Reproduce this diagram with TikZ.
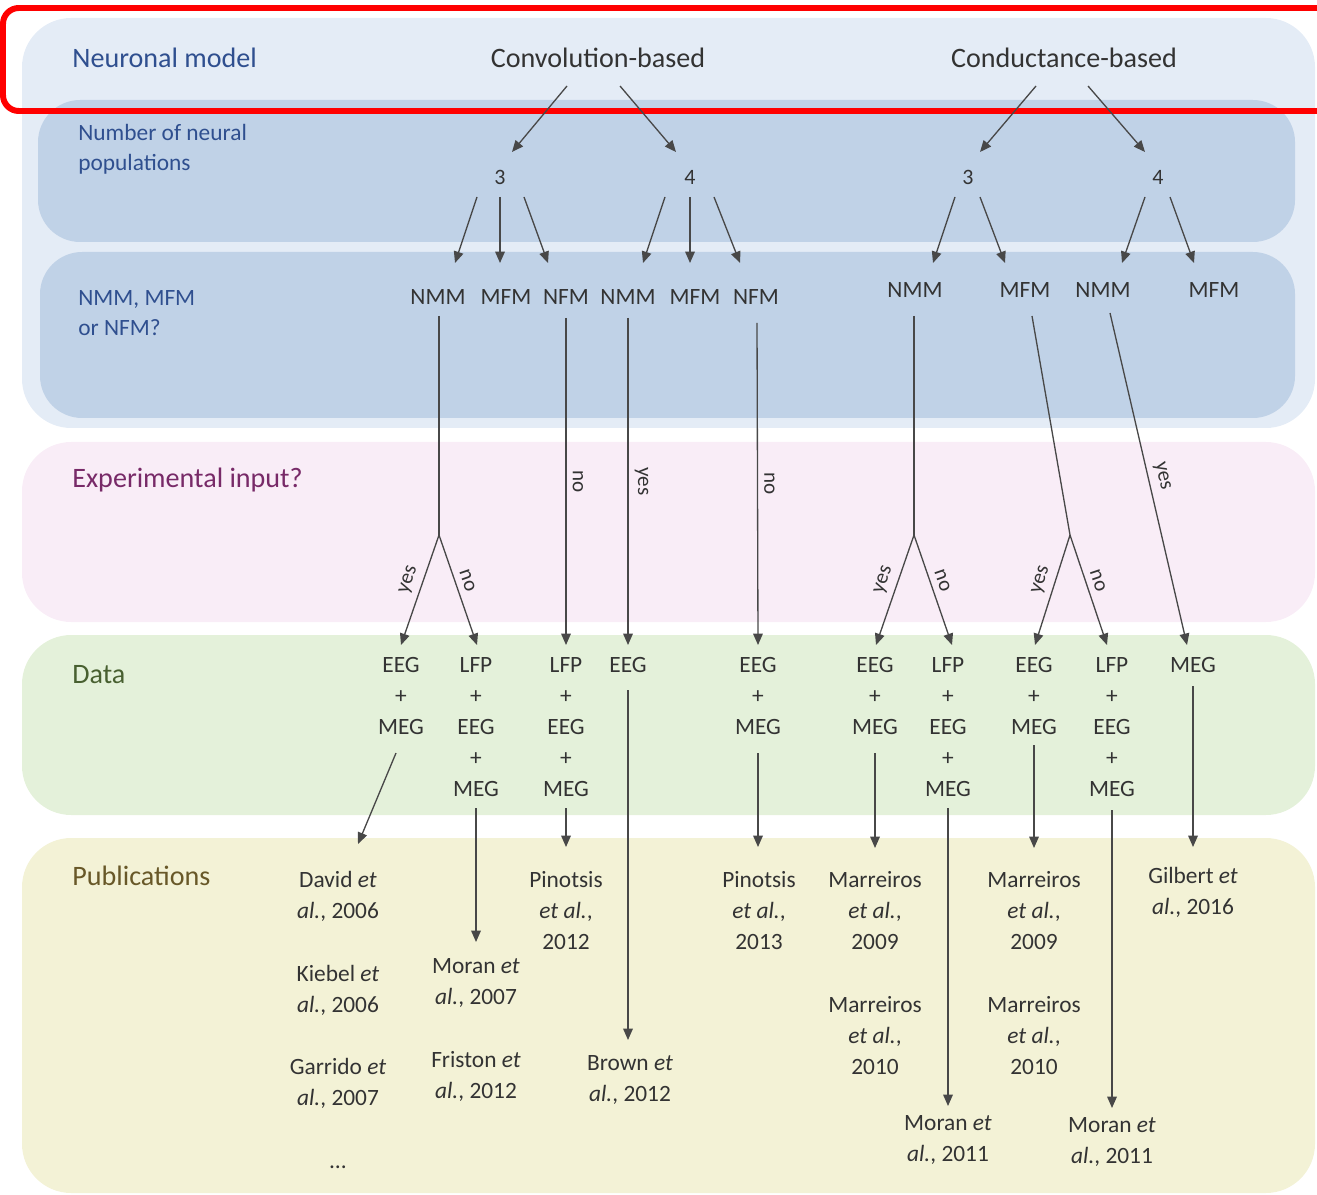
\documentclass[tikz,border=0pt]{standalone}
\usepackage{fontspec}
\setmainfont{Carlito}
\usetikzlibrary{arrows.meta,calc}
\definecolor{bandouter}{RGB}{228,236,246}
\definecolor{bandinner}{RGB}{192,210,231}
\definecolor{bandpink}{RGB}{249,237,247}
\definecolor{bandgreen}{RGB}{228,241,218}
\definecolor{bandyellow}{RGB}{243,242,214}
\definecolor{inkblue}{RGB}{47,79,143}
\definecolor{inkpurple}{RGB}{120,42,104}
\definecolor{inkgreen}{RGB}{72,96,48}
\definecolor{inkolive}{RGB}{104,88,40}
\definecolor{ink}{RGB}{51,51,51}
\definecolor{wirecol}{RGB}{72,72,72}
% multi-line nodes sit on the baseline of their last line
\tikzstyle{heading}=[anchor=base west, inner sep=0pt, font=\fontsize{16}{20}\selectfont]
\tikzstyle{sublabel}=[anchor=base west, inner sep=0pt, align=left, text=inkblue,
font=\fontsize{13.3}{17.6}\selectfont]
\tikzstyle{model}=[anchor=base, inner sep=0pt, text=ink, font=\fontsize{16}{20}\selectfont]
\tikzstyle{count}=[anchor=base, inner sep=0pt, text=ink, font=\fontsize{12.5}{14}\selectfont]
\tikzstyle{kind}=[anchor=base, inner sep=0pt, text=ink, font=\fontsize{13.3}{16}\selectfont]
\tikzstyle{data}=[anchor=base, inner sep=0pt, align=center, text=ink,
font=\fontsize{13.3}{17.6}\selectfont]
\tikzstyle{paper}=[data]
\tikzstyle{branch}=[wirecol, line width=0.75pt]
\tikzstyle{arr}=[branch, -{Triangle[length=6.5pt,width=5.5pt]}]
\tikzstyle{answer}=[inner sep=3.5pt, text=ink, font=\fontsize{12}{14}\selectfont]

\begin{document}
\begin{tikzpicture}[x=0.02cm,y=-0.02cm]
\useasboundingbox (0,0) rectangle (1317,1195);
% bands
\fill[bandouter, rounded corners=28pt] (22,18) rectangle (1315,428);
\fill[bandinner, rounded corners=24pt] (38,100) rectangle (1295,242);
\fill[bandinner, rounded corners=24pt] (40,252) rectangle (1295,418);
\fill[bandpink, rounded corners=28pt] (22,442) rectangle (1315,622);
\fill[bandgreen, rounded corners=28pt] (22,635) rectangle (1315,815);
\fill[bandyellow, rounded corners=28pt] (22,838) rectangle (1315,1193);
\draw[red, line width=3.4pt, rounded corners=9pt] (3,8) rectangle (1345,111);

% row labels
\node[heading, text=inkblue](rowmodel)at (72,68){Neuronal model};
\node[sublabel](rowpop)at (78,171){Number of neural\\populations};
\node[sublabel](rowkind)at (78,336){NMM, MFM\\or NFM?};
\node[heading, text=inkpurple](rowinput)at (72,487){Experimental input?};
\node[heading, text=inkgreen](rowdata)at (72,683){Data};
\node[heading, text=inkolive](rowpub)at (72,885){Publications};

% models
\node[model](conv)at (598,68){Convolution-based};
\node[model](cond)at (1064,68){Conductance-based};

\node[count](popA3)at (500,185){3};
\node[count](popA4)at (690,185){4};
\node[count](popB3)at (968,185){3};
\node[count](popB4)at (1158,185){4};

\node[kind](nmmA)at (438,305){NMM};
\node[kind](mfmA)at (506,305){MFM};
\node[kind](nfmA)at (566,305){NFM};
\node[kind](nmmB)at (628,305){NMM};
\node[kind](mfmB)at (695,305){MFM};
\node[kind](nfmB)at (756,305){NFM};
\node[kind](nmmC)at (915,298){NMM};
\node[kind](mfmC)at (1025,298){MFM};
\node[kind](nmmD)at (1103,298){NMM};
\node[kind](mfmD)at (1214,298){MFM};

\coordinate (forkA) at (439,535);
\coordinate (forkB) at (914,535);
\coordinate (forkC) at (1070,535);

% data
\node[data](eegmegA)at (401,734){EEG\\+\\MEG};
\node[data](lfpA)at (476,796){LFP\\+\\EEG\\+\\MEG};
\node[data](lfpB)at (566,796){LFP\\+\\EEG\\+\\MEG};
\node[data](eegA)at (628,672){EEG};
\node[data](eegmegB)at (758,734){EEG\\+\\MEG};
\node[data](eegmegC)at (875,734){EEG\\+\\MEG};
\node[data](lfpC)at (948,796){LFP\\+\\EEG\\+\\MEG};
\node[data](eegmegD)at (1034,734){EEG\\+\\MEG};
\node[data](lfpD)at (1112,796){LFP\\+\\EEG\\+\\MEG};
\node[data](megA)at (1193,672){MEG};

% publications
\node[paper](david)at (338,918){David \emph{et}\\\emph{al.}, 2006};
\node[paper](kiebel)at (338,1012){Kiebel \emph{et}\\\emph{al.}, 2006};
\node[paper](garrido)at (338,1105){Garrido \emph{et}\\\emph{al.}, 2007};
\node[paper](etc)at (338,1168){\ldots};
\node[paper](moranA)at (476,1004){Moran \emph{et}\\\emph{al.}, 2007};
\node[paper](friston)at (476,1098){Friston \emph{et}\\\emph{al.}, 2012};
\node[paper](pinotsisA)at (566,949){Pinotsis\\\emph{et al.},\\2012};
\node[paper](brown)at (630,1101){Brown \emph{et}\\\emph{al.}, 2012};
\node[paper](pinotsisB)at (759,949){Pinotsis\\\emph{et al.},\\2013};
\node[paper](marreirosA)at (875,949){Marreiros\\\emph{et al.},\\2009};
\node[paper](marreirosB)at (875,1074){Marreiros\\\emph{et al.},\\2010};
\node[paper](moranB)at (948,1161){Moran \emph{et}\\\emph{al.}, 2011};
\node[paper](marreirosC)at (1034,949){Marreiros\\\emph{et al.},\\2009};
\node[paper](marreirosD)at (1034,1074){Marreiros\\\emph{et al.},\\2010};
\node[paper](moranC)at (1112,1163){Moran \emph{et}\\\emph{al.}, 2011};
\node[paper](gilbert)at (1193,914){Gilbert \emph{et}\\\emph{al.}, 2016};

% model -> populations
\draw[arr] ($(conv.base)+(-31,18)$) -- ($(popA3.base)+(12,-33)$);
\draw[arr] ($(conv.base)+(22,18)$) -- ($(popA4.base)+(-14,-33)$);
\draw[arr] ($(cond.base)+(-28,18)$) -- ($(popB3.base)+(12,-33)$);
\draw[arr] ($(cond.base)+(24,18)$) -- ($(popB4.base)+(-13,-33)$);

% populations -> kind
\draw[arr] ($(popA3.base)+(-23,12)$) -- ($(nmmA.base)+(17,-42)$);
\draw[arr] ($(popA3.base)+(0,12)$) -- ($(mfmA.base)+(-6,-42)$);
\draw[arr] ($(popA3.base)+(24,12)$) -- ($(nfmA.base)+(-18,-42)$);
\draw[arr] ($(popA4.base)+(-25,12)$) -- ($(nmmB.base)+(15,-42)$);
\draw[arr] ($(popA4.base)+(0,12)$) -- ($(mfmB.base)+(-5,-42)$);
\draw[arr] ($(popA4.base)+(24,12)$) -- ($(nfmB.base)+(-16,-42)$);
\draw[arr] ($(popB3.base)+(-13,12)$) -- ($(nmmC.base)+(18,-35)$);
\draw[arr] ($(popB3.base)+(12,12)$) -- ($(mfmC.base)+(-20,-35)$);
\draw[arr] ($(popB4.base)+(-13,12)$) -- ($(nmmD.base)+(19,-35)$);
\draw[arr] ($(popB4.base)+(12,12)$) -- ($(mfmD.base)+(-20,-35)$);

% kind -> data
\draw[branch] ($(nmmA.base)+(1,11)$) -- (forkA);
\draw[arr] (forkA) -- node[answer, pos=0.45, sloped, above]{yes} ($(eegmegA.base)+(0,-89)$);
\draw[arr] (forkA) -- node[answer, pos=0.45, sloped, above]{no} ($(lfpA.base)+(1,-151)$);
\draw[arr] ($(nfmA.base)+(0,13)$) -- node[answer, rotate=-90, anchor=south]{no} ($(lfpB.base)+(0,-151)$);
\draw[arr] ($(nmmB.base)+(0,13)$) -- node[answer, rotate=-90, anchor=south]{yes} ($(eegA.base)+(0,-27)$);
\draw[arr] ($(nfmB.base)+(1,18)$) -- node[answer, rotate=-90, anchor=south]{no} ($(eegmegB.base)+(0,-89)$);
\draw[branch] ($(nmmC.base)+(-1,18)$) -- (forkB);
\draw[arr] (forkB) -- node[answer, pos=0.45, sloped, above]{yes} ($(eegmegC.base)+(1,-89)$);
\draw[arr] (forkB) -- node[answer, pos=0.45, sloped, above]{no} ($(lfpC.base)+(4,-151)$);
\draw[branch] ($(mfmC.base)+(7,18)$) -- (forkC);
\draw[arr] (forkC) -- node[answer, pos=0.45, sloped, above]{yes} ($(eegmegD.base)+(1,-89)$);
\draw[arr] (forkC) -- node[answer, pos=0.45, sloped, above]{no} ($(lfpD.base)+(-5,-151)$);
\draw[arr] ($(nmmD.base)+(7,15)$) -- node[answer, pos=0.5, sloped, above]{yes} ($(megA.base)+(-6,-27)$);

% data -> publications
\draw[arr] ($(eegmegA.base)+(-5,19)$) -- ($(david.base)+(20,-74)$);
\draw[arr] ($(lfpA.base)+(0,12)$) -- ($(moranA.base)+(0,-62)$);
\draw[arr] ($(lfpB.base)+(0,12)$) -- ($(pinotsisA.base)+(0,-102)$);
\draw[arr] ($(eegA.base)+(0,18)$) -- ($(brown.base)+(-2,-61)$);
\draw[arr] ($(eegmegB.base)+(0,19)$) -- ($(pinotsisB.base)+(-1,-102)$);
\draw[arr] ($(eegmegC.base)+(0,19)$) -- ($(marreirosA.base)+(0,-101)$);
\draw[arr] ($(lfpC.base)+(0,12)$) -- ($(moranB.base)+(0,-55)$);
\draw[arr] ($(eegmegD.base)+(0,11)$) -- ($(marreirosC.base)+(0,-101)$);
\draw[arr] ($(lfpD.base)+(0,14)$) -- ($(moranC.base)+(0,-55)$);
\draw[arr] ($(megA.base)+(0,14)$) -- ($(gilbert.base)+(0,-67)$);
\end{tikzpicture}
\end{document}
